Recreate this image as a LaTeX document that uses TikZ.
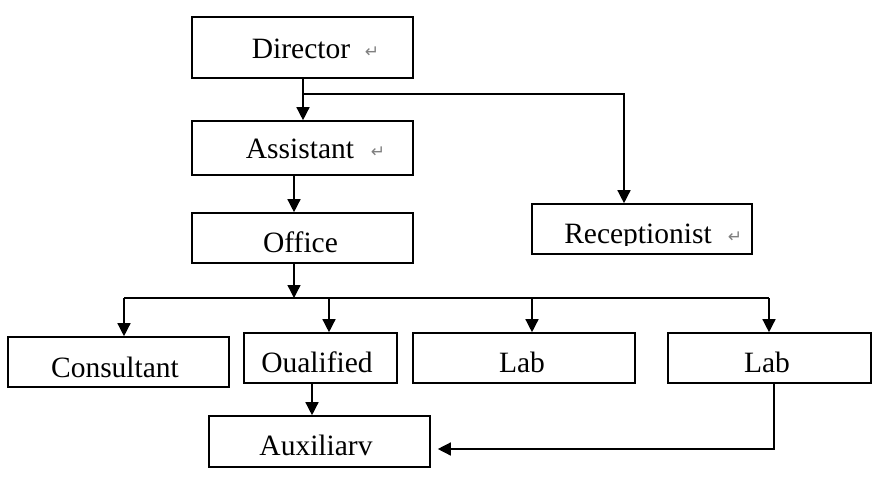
\documentclass[tikz,border=0pt]{standalone}
\usepackage{fontspec}
\setmainfont{Liberation Serif}
\newfontfamily\symfont{DejaVu Sans}
\usetikzlibrary{arrows.meta}
\tikzset{
  box/.style={draw=black, line width=1.6pt, rectangle, inner sep=0pt},
  lbl/.style={anchor=base, inner sep=0pt, font=\fontsize{29.5}{31}\selectfont},
  retmark/.style={inner sep=0pt, text=gray, font=\symfont\fontsize{17}{18}\selectfont},
  conn/.style={line width=1.4pt},
  arr/.style={conn, -{Triangle[length=13pt,width=13pt]}}
}
\begin{document}
\begin{tikzpicture}[x=1pt,y=-1pt]
\useasboundingbox (0,0) rectangle (885,476);
% boxes
\node[box, minimum width=221pt, minimum height=61pt] (dir) at (302.5,47.5) {};
\node[box, minimum width=221pt, minimum height=54pt] (asst) at (302.5,148) {};
\node[box, minimum width=221pt, minimum height=50pt] (off) at (302.5,238) {};
\node[box, minimum width=220pt, minimum height=50pt] (rec) at (642,229) {};
\node[box, minimum width=221pt, minimum height=50pt] (cons) at (118.5,362) {};
\node[box, minimum width=153pt, minimum height=50pt] (qual) at (320.5,358) {};
\node[box, minimum width=222pt, minimum height=50pt] (lab1) at (524,358) {};
\node[box, minimum width=203pt, minimum height=50pt] (lab2) at (769.5,358) {};
\node[box, minimum width=221pt, minimum height=51pt] (aux) at (319.5,441.5) {};
% labels
\node[lbl] (dirT) at (301,59) {Director};
\node[retmark] (dirR) at (372,52) {↵};
\node[lbl] (asstT) at (300,158) {Assistant};
\node[retmark] (asstR) at (378,152) {↵};
\node[lbl] (offT) at (300.5,252) {Office};
\begin{scope}
  \clip (533,205) rectangle (751,245.5);
  \node[lbl] (recT) at (638,243) {Receptionist};
\end{scope}
\node[retmark] (recR) at (735,237) {↵};
\node[lbl] (consT) at (115,377) {Consultant};
\node[lbl] (qualT) at (317,372) {Oualified};
\node[lbl] (lab1T) at (522,372) {Lab};
\node[lbl] (lab2T) at (767,372) {Lab};
\node[lbl] (auxT) at (316,455) {Auxiliarv};
% connectors
\coordinate (j1) at (303,94);
\coordinate (j2) at (294,298);
\coordinate (hl) at (124,298);
\coordinate (hr) at (769,298);
\draw[arr] ([xshift=0.5pt]dir.south) -- ([xshift=0.5pt]asst.north);
\draw[arr] (j1) -| ([xshift=-18pt]rec.north);
\draw[arr] ([xshift=-8.5pt]asst.south) -- ([xshift=-8.5pt]off.north);
\draw[arr] ([xshift=-8.5pt]off.south) -- (j2);
\draw[conn] (hl) -- (hr);
\draw[arr] (hl) -- ([xshift=5.5pt]cons.north);
\draw[arr] (hl -| qual.north) ++(8.5,0) -- ([xshift=8.5pt]qual.north);
\draw[arr] (hl -| lab1.north) ++(8,0) -- ([xshift=8pt]lab1.north);
\draw[arr] (hr) -- ([xshift=-0.5pt]lab2.north);
\draw[arr] ([xshift=-8.5pt]qual.south) -- ([xshift=-7.5pt]aux.north);
\draw[arr] ([xshift=4.5pt]lab2.south) |- ([xshift=7pt,yshift=-7.5pt]aux.east);
\end{tikzpicture}
\end{document}
